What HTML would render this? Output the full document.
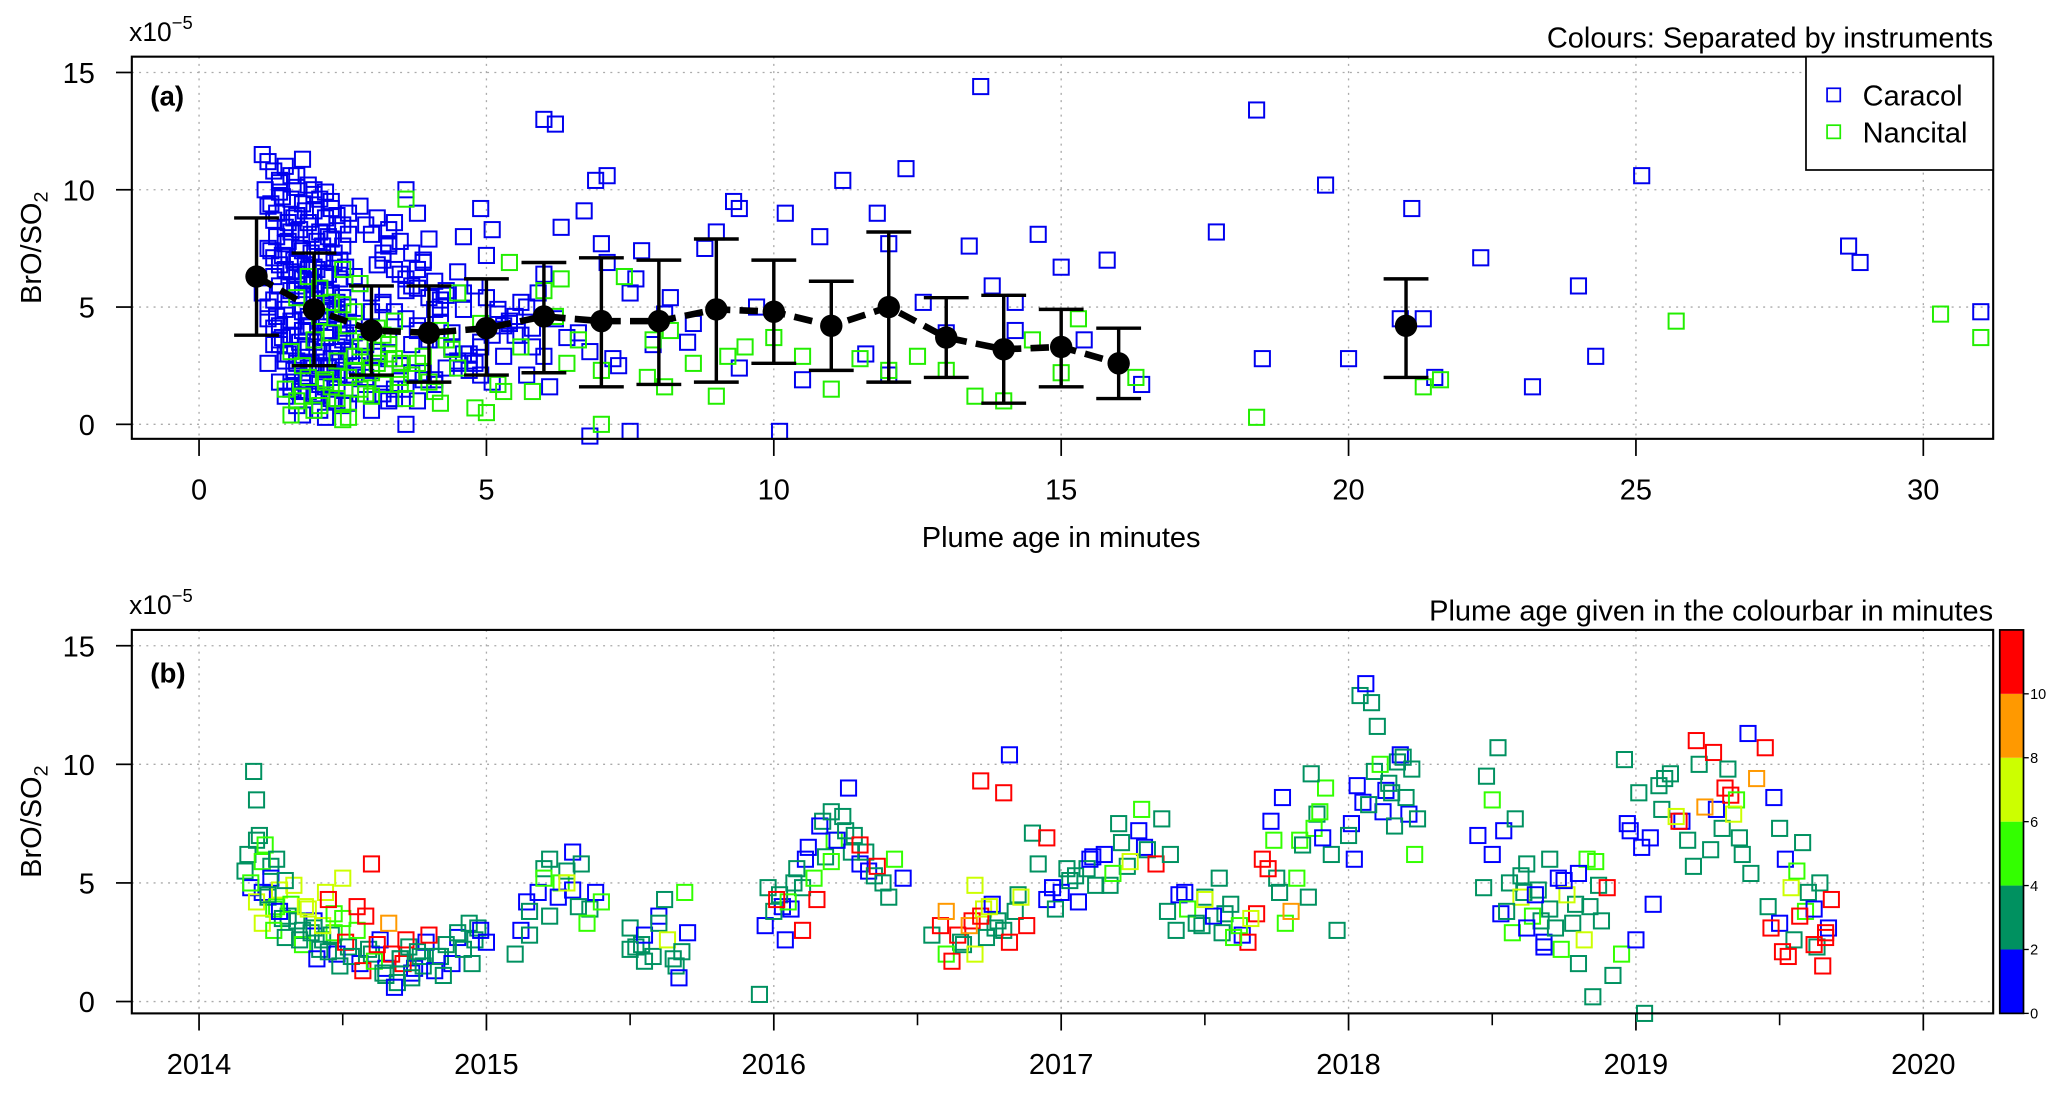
<!DOCTYPE html>
<html><head><meta charset="utf-8">
<style>
html,body{margin:0;padding:0;background:#fff;}
svg{display:block;font-family:"Liberation Sans",Arial,sans-serif;}
</style></head>
<body>
<svg id="fig" width="2067" height="1103" viewBox="0 0 1568 837" preserveAspectRatio="none" xmlns="http://www.w3.org/2000/svg">
<g id="pa"></g>
<g id="pb"></g>
</svg>
<script>
// ---------- Panel (a) data ----------
const ageTicksA = [0,5,10,15,20,25,30];
const ratioTicks = [0,5,10,15];
const caracolAge = [1.1,1.2,1.3,1.4,1.5,1.6,1.7,1.8,1.9,2.0,2.1,2.2,2.3,2.4,2.5,1.15,1.25,1.35,1.45,1.55,1.65,1.75,1.85,1.95,2.05,2.15,2.25,2.35,2.45,1.2,1.3,1.4,1.5,1.6,1.7,1.8,1.9,2.0,2.1,2.2,2.3,2.4,2.6,1.1,1.3,1.5,1.7,1.9,2.1,2.3,2.5,2.7,1.2,1.4,1.6,1.8,2.0,2.2,2.4,2.6,2.8,1.3,1.5,1.7,1.9,2.1,2.3,2.5,2.7,2.9,1.2,1.4,1.6,1.8,2.0,2.2,2.4,1.5,1.7,1.9,2.1,2.3,1.6,1.8,2.0,2.2,1.4,1.9,2.4,2.8,3.0,3.2,3.4,3.6,3.8,4.0,3.1,3.3,3.5,3.7,3.9,4.1,4.3,3.0,3.2,3.4,3.6,3.8,4.0,4.2,4.4,3.1,3.3,3.5,3.7,3.9,4.1,4.5,2.9,3.2,3.5,3.8,4.1,4.4,4.7,3.0,3.4,3.8,4.2,4.6,5.0,2.7,3.3,3.9,4.5,5.1,4.3,4.6,4.9,5.2,5.5,5.8,4.4,4.8,5.3,5.7,6.1,4.7,5.1,5.6,6.0,6.4,5.4,5.9,6.3,6.7,7.0,6.2,6.6,7.1,7.5,7.9,6.8,7.3,7.7,8.1,8.5,7.2,7.6,8.2,8.6,9.0,9.4,8.8,9.3,9.7,10.2,10.8,11.2,11.6,12.0,12.3,12.6,13.0,13.4,13.8,14.2,14.6,15.0,15.4,15.8,16.4,4.6,4.9,6.0,6.2,6.9,7.1,9.4,11.8,13.6,17.7,18.4,18.5,19.6,20.0,20.9,21.1,21.3,21.5,22.3,23.2,24.0,24.3,25.1,28.7,28.9,30.4,31.0,14.2,12.0,4.9,6.8,7.5,10.1,10.5,3.3,3.6,2.5,1.8];
const caracolRatio = [11.5,11.2,10.8,10.4,11.0,10.6,10.1,11.3,10.2,9.8,9.6,9.9,9.2,8.9,8.5,10.0,9.4,9.0,9.7,8.6,8.8,8.3,9.1,8.1,7.8,7.6,8.0,7.3,7.0,7.5,7.1,6.8,7.7,6.5,6.9,6.2,6.6,6.0,5.8,6.3,5.5,5.2,5.0,5.6,5.3,4.9,5.9,4.6,4.4,4.8,4.1,3.9,4.5,4.2,3.8,4.0,3.5,3.7,3.3,3.1,2.9,3.4,3.0,2.7,3.2,2.5,2.8,2.3,2.1,2.0,2.6,1.8,1.5,2.2,1.3,1.6,1.0,1.2,0.8,1.4,0.6,1.1,8.2,7.4,6.7,5.7,3.6,2.4,4.7,9.3,8.1,7.3,8.6,10.0,9.0,7.9,6.8,7.6,6.4,5.9,7.0,6.1,5.5,4.8,5.1,4.4,5.7,4.0,3.6,4.3,3.2,2.9,3.7,2.5,3.4,2.2,1.9,2.6,1.7,1.3,2.0,1.0,4.9,3.9,2.7,2.3,1.5,6.6,5.3,8.0,7.2,6.3,7.7,7.0,6.5,8.3,5.7,4.9,9.2,4.7,3.8,4.1,3.3,2.6,2.9,2.1,1.6,2.3,1.8,5.2,6.4,3.7,4.4,5.6,8.4,9.1,7.7,4.5,3.9,6.9,5.6,3.4,3.1,2.5,7.4,4.7,3.5,2.8,6.2,5.4,4.3,8.2,2.4,7.5,9.5,5.0,9.0,8.0,10.4,3.0,7.7,10.9,5.2,3.9,7.6,5.9,4.0,8.1,6.7,3.6,7.0,1.7,5.6,2.1,13.0,12.8,10.4,10.6,9.2,9.0,14.4,8.2,13.4,2.8,10.2,2.8,4.5,9.2,4.5,2.0,7.1,1.6,5.9,2.9,10.6,7.6,6.9,14.9,4.8,5.2,2.1,3.3,-0.5,-0.3,-0.3,1.9,1.0,0.0,0.8,4.8,3.0,2.7,1.9];
const caracolDenseAge = [1.2,1.3,1.4,1.5,1.6,1.7,1.8,1.9,2.0,2.1,2.2,2.3,2.4,2.5,2.6,1.25,1.35,1.45,1.55,1.65,1.75,1.85,1.95,2.05,2.15,2.25,2.35,2.45,2.55,1.3,1.4,1.5,1.6,1.7,1.8,1.9,2.0,2.1,2.2,2.3,2.4,2.5,1.2,1.35,1.5,1.65,1.8,1.95,2.1,2.25,2.4,2.55,2.7,1.3,1.45,1.6,1.75,1.9,2.05,2.2,2.35,2.5,2.65,1.4,1.55,1.7,1.85,2.0,2.15,2.3,2.45,2.6,2.75,1.5,1.65,1.8,1.95,2.1,2.25,2.4,2.55,1.6,1.75,1.9,2.05,2.2,2.35,1.4,1.7,2.0,2.3,2.6,2.9,3.1,3.3,3.5,3.7,3.9,3.2,3.4,3.6,3.8,4.0,4.2,2.8,3.0,3.2,3.4,3.6,3.8,4.0,4.2,4.4,4.6,2.9,3.1,3.3,3.5,3.7,3.9,4.1,4.3,4.5,4.7,4.9,5.1,5.3,5.5,5.7,4.8,5.0,5.2,5.4,5.6,5.8,6.0,1.8,2.2,2.6,3.0,3.4,1.6,2.4,2.8,3.2,3.6];
const caracolDenseRatio = [9.3,8.7,9.9,8.4,9.6,8.9,9.4,8.6,9.1,8.2,8.8,7.9,8.5,7.6,8.1,7.4,8.0,7.2,7.8,7.0,7.5,6.8,7.3,6.6,7.1,6.4,6.9,6.2,6.7,6.3,5.9,6.6,5.7,6.4,5.5,6.1,5.3,5.8,5.1,5.6,4.9,5.4,5.0,4.6,5.3,4.4,5.1,4.2,4.8,4.0,4.5,3.8,4.3,4.1,3.7,4.4,3.5,4.2,3.3,3.9,3.1,3.6,2.9,3.4,3.0,2.6,3.3,2.4,3.1,2.2,2.8,2.0,2.5,2.7,2.3,1.9,2.6,1.7,2.4,1.5,2.1,1.8,1.4,2.0,1.2,1.7,1.0,10.3,10.6,10.0,9.5,9.0,8.5,8.8,8.3,7.8,7.3,6.9,7.0,6.6,6.2,5.8,5.4,5.0,6.0,5.6,5.2,4.8,4.5,4.2,3.9,3.6,3.3,3.0,3.4,3.1,2.8,2.5,2.2,1.9,1.7,2.4,2.7,3.0,3.5,3.8,4.2,4.6,5.0,5.9,5.4,4.9,4.3,3.8,3.3,2.9,0.4,0.3,0.9,0.6,1.1,1.6,2.0,1.3,1.8,1.5];
const nancitalAge = [1.5,1.7,1.9,2.1,2.3,2.5,2.7,2.9,1.6,1.8,2.0,2.2,2.4,2.6,2.8,3.0,1.7,1.9,2.1,2.3,2.5,2.7,3.1,3.3,3.5,3.7,3.9,4.1,4.3,4.5,3.2,3.4,3.6,3.8,4.0,4.2,4.4,2.6,2.8,3.0,3.6,4.2,4.8,5.2,5.6,6.0,6.4,5.0,5.4,5.8,6.2,6.6,7.0,7.4,7.8,8.2,8.6,9.0,9.5,10.0,10.5,11.0,11.5,12.0,12.5,13.0,13.5,14.0,14.5,15.0,15.3,16.3,3.5,2.5,6.3,7.0,18.4,21.3,21.6,25.7,30.3,31.0,9.2,5.3,8.1,7.9,4.9,4.5,1.6,1.8,2.0,2.2,2.4,2.6,2.8,3.0,3.2,3.4,2.1,2.3,2.5,2.7,2.9,3.1,3.3,3.5];
const nancitalRatio = [1.5,1.0,2.0,0.8,1.6,0.9,2.3,1.3,3.1,2.5,3.6,1.9,2.7,4.2,3.3,2.2,5.4,6.3,4.6,3.9,5.1,2.9,2.6,3.4,1.7,2.1,2.9,1.4,3.6,2.4,3.8,4.4,1.1,2.6,1.8,0.9,3.2,0.3,6.0,1.2,9.6,4.0,0.7,1.7,3.3,5.7,2.6,0.5,6.9,1.4,4.6,3.6,2.3,6.3,2.0,4.0,2.6,1.2,3.3,3.7,2.9,1.5,2.8,2.3,2.9,2.3,1.2,1.0,3.6,2.2,4.5,2.0,2.0,0.2,6.2,0.0,0.3,1.6,1.9,4.4,4.7,3.7,2.9,1.4,1.6,3.6,4.3,5.6,0.4,1.2,0.6,1.8,1.1,2.0,1.5,2.4,1.7,2.8,5.8,5.2,6.6,4.8,3.5,4.1,3.0,2.6];
const meanAge = [1,2,3,4,5,6,7,8,9,10,11,12,13,14,15,16,21];
const meanRatio = [6.3,4.9,4.0,3.9,4.1,4.6,4.4,4.4,4.9,4.8,4.2,5.0,3.7,3.2,3.3,2.6,4.2];
const errLow = [3.8,2.5,2.1,1.8,2.1,2.2,1.6,1.7,1.8,2.6,2.3,1.8,2.0,0.9,1.6,1.1,2.0];
const errHigh = [8.8,7.3,5.9,5.9,6.2,6.9,7.1,7.0,7.9,7.0,6.1,8.2,5.4,5.5,4.9,4.1,6.2];

// ---------- Panel (b) data ----------
const yearTicks = [2014,2015,2016,2017,2018,2019,2020];
const cbarTicks = [0,2,4,6,8,10];
const obsDate = [2014.16,2014.17,2014.18,2014.19,2014.2,2014.21,2014.22,2014.23,2014.24,2014.25,2014.26,2014.27,2014.28,2014.29,2014.3,2014.18,2014.2,2014.22,2014.24,2014.26,2014.28,2014.3,2014.32,2014.34,2014.36,2014.38,2014.4,2014.42,2014.44,2014.46,2014.48,2014.5,2014.35,2014.37,2014.39,2014.41,2014.43,2014.45,2014.47,2014.49,2014.51,2014.53,2014.55,2014.57,2014.59,2014.61,2014.63,2014.65,2014.67,2014.69,2014.71,2014.73,2014.75,2014.77,2014.62,2014.64,2014.66,2014.68,2014.7,2014.72,2014.74,2014.76,2014.78,2014.8,2014.82,2014.84,2014.86,2014.88,2014.9,2014.92,2014.94,2014.96,2014.98,2015.0,2014.85,2014.95,2014.45,2014.5,2014.55,2014.58,2014.6,2015.1,2015.12,2015.15,2015.18,2015.2,2015.22,2015.25,2015.28,2015.3,2015.32,2015.35,2015.38,2015.15,2015.22,2015.28,2015.33,2015.4,2015.5,2015.52,2015.55,2015.58,2015.6,2015.63,2015.66,2015.68,2015.7,2015.55,2015.62,2015.67,2015.5,2015.69,2015.95,2015.97,2016.0,2016.02,2016.04,2016.06,2016.08,2016.1,2016.12,2016.14,2016.16,2016.18,2016.2,2016.22,2016.24,2016.26,2016.28,2016.3,2016.32,2016.35,2016.05,2016.1,2016.15,2016.2,2016.25,2016.3,2016.36,2016.38,2016.4,2016.42,2016.45,2015.98,2016.01,2016.55,2016.58,2016.6,2016.62,2016.64,2016.66,2016.68,2016.7,2016.72,2016.74,2016.76,2016.78,2016.8,2016.82,2016.84,2016.86,2016.88,2016.6,2016.7,2016.75,2016.8,2016.72,2016.82,2016.9,2016.92,2016.95,2016.98,2017.0,2017.03,2017.06,2017.09,2017.12,2017.15,2017.18,2017.21,2017.24,2017.27,2017.3,2017.33,2016.95,2017.02,2017.1,2017.2,2017.28,2017.35,2017.38,2017.41,2017.44,2017.47,2017.5,2017.53,2017.56,2017.59,2017.62,2017.65,2017.68,2017.4,2017.5,2017.6,2017.66,2017.55,2017.7,2017.72,2017.74,2017.76,2017.78,2017.8,2017.82,2017.84,2017.86,2017.88,2017.9,2017.92,2017.94,2017.73,2017.77,2017.87,2017.91,2017.96,2018.0,2018.02,2018.04,2018.06,2018.08,2018.1,2018.12,2018.14,2018.16,2018.18,2018.2,2018.22,2018.24,2018.03,2018.07,2018.11,2018.15,2018.19,2018.23,2018.45,2018.48,2018.5,2018.52,2018.54,2018.56,2018.58,2018.6,2018.62,2018.64,2018.66,2018.68,2018.7,2018.72,2018.74,2018.76,2018.78,2018.8,2018.82,2018.84,2018.86,2018.88,2018.9,2018.5,2018.55,2018.6,2018.65,2018.7,2018.75,2018.8,2018.85,2018.68,2018.62,2018.92,2018.95,2018.98,2019.0,2019.03,2019.06,2019.09,2019.12,2019.15,2019.18,2019.21,2019.24,2019.27,2019.3,2019.33,2018.96,2019.02,2019.08,2019.14,2019.2,2019.26,2019.32,2019.35,2019.37,2019.39,2019.34,2019.4,2019.42,2019.45,2019.48,2019.5,2019.52,2019.54,2019.56,2019.58,2019.6,2019.62,2019.64,2019.66,2019.68,2019.47,2019.53,2019.57,2019.62,2019.65,2019.66,2019.51];
const obsRatio = [5.5,6.2,4.8,9.7,8.5,7.0,5.9,6.6,4.4,5.2,3.9,6.0,4.7,3.5,5.1,5.0,4.2,3.3,4.5,3.0,3.8,2.7,4.1,3.4,2.4,3.9,3.1,2.2,4.6,2.8,2.0,3.5,2.6,4.0,2.9,1.8,3.2,2.1,3.7,1.5,2.5,1.9,3.0,1.3,2.2,1.7,2.6,1.1,2.0,0.8,1.6,2.3,1.4,1.9,2.4,1.2,3.3,0.6,1.8,2.6,1.0,2.1,1.5,2.8,1.3,1.9,2.4,1.6,2.9,2.2,3.3,2.6,3.0,2.5,1.1,1.6,4.3,5.2,4.0,3.6,5.8,2.0,3.0,3.8,4.6,5.2,6.0,4.4,5.5,6.3,4.0,3.3,4.6,2.8,3.6,5.0,5.8,4.2,3.1,2.3,2.8,1.9,3.3,2.6,1.5,2.1,2.9,1.7,4.3,1.0,2.2,4.6,0.3,3.2,3.8,4.5,2.6,3.9,5.6,4.8,6.5,5.2,7.4,6.1,8.0,6.8,7.8,9.0,7.0,5.8,6.3,5.3,4.2,3.0,4.3,5.9,7.2,6.6,5.7,5.0,4.4,6.0,5.2,4.8,4.3,2.8,3.2,2.0,1.7,2.8,2.4,3.2,2.0,3.6,2.7,4.1,3.4,3.0,2.5,3.8,4.4,3.2,3.8,4.9,4.0,8.8,9.3,10.4,7.1,5.8,4.3,3.9,4.6,5.1,4.2,5.6,4.9,6.2,5.4,6.7,5.9,7.2,6.4,5.8,6.9,5.6,6.0,7.5,8.1,7.7,6.2,4.5,3.9,3.3,4.4,3.6,2.9,4.1,3.2,2.5,3.7,3.0,4.3,2.7,3.5,5.2,6.0,5.6,6.8,4.6,3.3,3.8,5.2,6.6,4.4,7.3,8.0,9.0,6.2,7.6,8.6,9.6,6.9,3.0,7.0,6.0,12.9,13.4,12.6,11.6,8.0,9.2,7.4,10.4,8.6,9.8,7.7,9.1,8.3,10.0,8.8,10.3,6.2,7.0,9.5,8.5,10.7,7.2,5.0,7.7,4.4,5.8,3.6,4.7,2.5,3.9,3.1,2.2,4.5,3.3,5.4,2.6,4.0,5.9,3.4,4.8,6.2,3.8,5.3,4.5,6.0,5.1,1.6,0.2,2.3,3.1,1.1,2.0,7.2,2.6,-0.5,4.1,8.1,9.6,7.6,6.8,11.0,8.2,10.5,7.3,8.7,10.2,6.5,9.1,7.8,5.7,6.4,9.8,8.5,6.2,11.3,7.9,5.4,9.4,10.7,8.6,7.3,6.0,4.8,5.5,6.7,4.6,3.9,5.0,2.7,4.3,3.1,1.9,3.6,2.4,1.5,2.9,2.1,1.2,0.6,3.4,4.2,3.0,7.9,2.2,0.1,4.5];
const obsPlumeAge = [3,3,1,3,3,3,4,5,3,1,4,3,6,3,2,5,6,6,3,4,1,3,5,2,4,6,3,2,7,3,1,5,3,6,2,1,7,3,5,3,10,2,4,11,3,5,1,3,10,2,11,3,1,2,11,3,9,1,3,11,3,2,3,11,1,3,2,1,3,2,3,3,1,1,3,2,11,7,10,11,11,3,1,2,1,4,3,1,2,1,3,5,1,3,2,6,3,4,3,3,1,2,3,7,3,2,1,3,3,1,3,4,3,1,2,3,1,1,3,2,1,5,1,3,2,1,2,1,3,1,3,3,4,11,11,4,3,10,11,3,3,5,1,3,11,3,11,5,10,11,3,9,7,11,3,1,2,3,10,3,7,11,9,7,7,10,11,1,3,2,1,3,1,3,1,3,2,1,5,3,6,1,3,11,10,3,1,3,5,3,2,1,5,3,2,1,3,3,5,11,10,3,7,5,6,3,11,10,5,3,5,9,5,3,3,5,5,5,3,1,1,3,1,3,2,1,3,1,3,3,1,3,2,1,3,3,3,1,3,5,3,3,5,1,3,5,3,1,3,2,7,3,5,3,1,3,3,5,7,3,1,7,3,5,3,11,1,3,2,1,3,1,3,3,1,1,3,5,1,1,3,1,2,3,11,3,11,9,11,3,11,3,1,3,6,3,2,3,5,3,1,7,3,9,11,1,3,1,7,5,3,3,1,3];
const extraDate = [2014.2,2014.22,2014.25,2014.27,2014.31,2014.33,2014.36,2014.4,2014.43,2014.47,2014.52,2014.56,2014.6,2014.65,2014.7,2014.74,2014.79,2014.83,2014.9,2014.97,2015.14,2015.2,2015.26,2015.3,2015.36,2015.54,2015.6,2015.65,2016.03,2016.07,2016.11,2016.17,2016.21,2016.27,2016.33,2016.65,2016.69,2016.73,2016.77,2016.85,2016.97,2017.05,2017.11,2017.17,2017.23,2017.29,2017.37,2017.43,2017.49,2017.57,2017.63,2017.75,2017.83,2017.89,2018.01,2018.05,2018.09,2018.13,2018.17,2018.21,2018.47,2018.53,2018.57,2018.61,2018.67,2018.73,2018.79,2018.83,2018.87,2018.97,2019.01,2019.05,2019.1,2019.16,2019.22,2019.28,2019.31,2019.36,2019.46,2019.5,2019.55,2019.59,2019.63,2019.67];
const extraRatio = [6.8,4.6,5.7,4.0,3.6,4.9,3.0,3.4,2.6,2.9,2.3,1.6,2.0,1.4,1.8,1.2,2.5,1.9,2.7,3.1,4.2,5.6,5.0,4.7,3.9,2.4,3.6,1.8,4.0,5.0,6.0,7.6,6.8,6.3,5.5,2.5,3.4,3.9,3.1,4.5,4.8,5.3,6.1,4.9,5.7,6.5,3.8,4.6,3.2,3.7,2.8,5.2,6.8,7.9,7.5,8.4,9.7,8.9,10.1,7.9,4.8,3.7,2.9,4.6,3.4,5.2,4.1,6.0,4.9,7.5,8.8,6.9,9.4,7.6,10.0,8.1,9.0,6.9,4.0,3.3,2.6,3.8,2.3,3.1];
const extraAge = [3,1,3,4,3,6,3,1,3,4,3,1,3,1,3,1,1,3,1,3,1,3,4,1,3,3,1,3,1,3,1,3,4,3,1,3,10,7,3,3,1,3,1,3,3,1,3,1,3,3,1,3,4,3,1,1,3,1,3,1,3,1,4,3,3,1,3,5,3,1,3,1,3,1,3,1,11,3,3,1,3,4,3,1];

// ---------- helpers ----------
const NS = "http://www.w3.org/2000/svg";
function mk(tag, attrs, parent){
  const e = document.createElementNS(NS, tag);
  for (const k in attrs) e.setAttribute(k, attrs[k]);
  parent.appendChild(e);
  return e;
}
const L = 100, R = 1512;
const A = {top:43, bot:333, y0:322, yPer:17.8};
const B = {top:478, bot:769, y0:760, yPer:18};
const xMin = m => 151 + m*43.6;
const yA = v => A.y0 - v*A.yPer;
const xYear = t => 151 + (t-2014)*218;
const yB = v => B.y0 - v*B.yPer;
function ageColor(a){
  if (a < 2) return "#0000ff";
  if (a < 4) return "#009160";
  if (a < 6) return "#33ff00";
  if (a < 8) return "#ccff00";
  if (a < 10) return "#ff9900";
  return "#ff0000";
}

function drawFrame(g, P, yfn, xfn, xticks, xlabels, title, minor){
  for (const v of ratioTicks){
    const gl = mk("line",{x1:L,x2:R,y1:yfn(v),y2:yfn(v),stroke:"#aaa","stroke-width":1,"stroke-dasharray":"1.5 4"},g);
    
    
    const t = mk("line",{x1:L-12,x2:L,y1:yfn(v),y2:yfn(v),stroke:"#000","stroke-width":1.3},g);
    
    
    const lb = mk("text",{x:L-28,y:yfn(v)+8,"text-anchor":"end","font-size":22},g);
    
    
    lb.textContent = v;
  }
  xticks.forEach((v,i)=>{
    const gl = mk("line",{x1:xfn(v),x2:xfn(v),y1:P.top,y2:P.bot,stroke:"#aaa","stroke-width":1,"stroke-dasharray":"1.5 4"},g);
    
    
    const t = mk("line",{x1:xfn(v),x2:xfn(v),y1:P.bot,y2:P.bot+13,stroke:"#000","stroke-width":1.3},g);
    
    
    const lb = mk("text",{x:xfn(v),y:P.bot+46,"text-anchor":"middle","font-size":22},g);
    
    
    lb.textContent = xlabels[i];
    if (minor && i < xticks.length-1){
      const mt = mk("line",{x1:xfn(v+0.5),x2:xfn(v+0.5),y1:P.bot,y2:P.bot+9,stroke:"#000","stroke-width":1.2},g);
      
      
    }
  });
  const ex = mk("text",{x:L-2,y:P.top-12,"font-size":20},g);
  
  
  ex.innerHTML = 'x10<tspan dy="-9" font-size="14">−5</tspan>';
  const tt = mk("text",{x:R,y:P.top-7,"text-anchor":"end","font-size":22},g);
  
  
  tt.textContent = title;
  const yl = mk("text",{transform:`translate(31,${(P.top+P.bot)/2}) rotate(-90)`,"text-anchor":"middle","font-size":22},g);
  
  
  yl.innerHTML = 'BrO/SO<tspan dy="5" font-size="15">2</tspan>';
}

const S = 11.5;
function sq(g,x,y,col,name){
  const r = mk("rect",{x:x-S/2,y:y-S/2,width:S,height:S,fill:"none",stroke:col,"stroke-width":1.5},g);
  
  
}

// ---------- Panel a ----------
const ga = document.getElementById('pa');
drawFrame(ga, A, yA, xMin, ageTicksA, ageTicksA, "Colours: Separated by instruments", false);
const clipA = mk("g",{},ga);
caracolAge.forEach((m,i)=>{ if (xMin(m) < R-3) sq(clipA, xMin(m), yA(caracolRatio[i]), "#0000ee", "caracol-point"); });
caracolDenseAge.forEach((m,i)=>{ sq(clipA, xMin(m), yA(caracolDenseRatio[i]), "#0000ee", "caracol-point"); });
nancitalAge.forEach((m,i)=>{ if (xMin(m) < R-3) sq(clipA, xMin(m), yA(nancitalRatio[i]), "#22ee00", "nancital-point"); });
let d = "";
meanAge.forEach((m,i)=>{ if (m<=16) d += (i? "L":"M") + xMin(m) + " " + yA(meanRatio[i]) + " "; });
const ml = mk("path",{d:d,fill:"none",stroke:"#000","stroke-width":5,"stroke-dasharray":"14 7"},ga);


meanAge.forEach((m,i)=>{
  const x = xMin(m);
  const eb = mk("path",{d:`M${x} ${yA(errLow[i])}V${yA(errHigh[i])}M${x-17} ${yA(errLow[i])}H${x+17}M${x-17} ${yA(errHigh[i])}H${x+17}`,stroke:"#000","stroke-width":2.6,fill:"none"},ga);
  
  
  const c = mk("circle",{cx:x,cy:yA(meanRatio[i]),r:8.5,fill:"#000"},ga);
  
  
});
const fa = mk("rect",{x:L,y:A.top,width:R-L,height:A.bot-A.top,fill:"none",stroke:"#000","stroke-width":1.6},ga);


const pla = mk("text",{x:L+14,y:A.top+37,"font-size":21,"font-weight":"bold"},ga);


pla.textContent = "(a)";
const xta = mk("text",{x:805,y:415,"text-anchor":"middle","font-size":22},ga);


xta.textContent = "Plume age in minutes";
const lg = mk("g",{},ga);


mk("rect",{x:1370,y:43,width:142,height:86,fill:"#fff",stroke:"#000","stroke-width":1.3},lg);
const leg = [["Caracol","#0000ee",72],["Nancital","#22ee00",100]];
leg.forEach(e=>{
  const le = mk("g",{},lg);
  
  
  mk("rect",{x:1386,y:e[2]-5,width:10,height:10,fill:"none",stroke:e[1],"stroke-width":1.3},le);
  const t = mk("text",{x:1413,y:e[2]+8,"font-size":22},le);
  t.textContent = e[0];
});

// ---------- Panel b ----------
const gb = document.getElementById('pb');
drawFrame(gb, B, yB, xYear, yearTicks, yearTicks, "Plume age given in the colourbar in minutes", true);
extraDate.forEach((t,i)=>{ sq(gb, xYear(t), yB(extraRatio[i]), ageColor(extraAge[i]), "observation-point"); });
obsDate.forEach((t,i)=>{ sq(gb, xYear(t), yB(obsRatio[i]), ageColor(obsPlumeAge[i]), "observation-point"); });
const fb = mk("rect",{x:L,y:B.top,width:R-L,height:B.bot-B.top,fill:"none",stroke:"#000","stroke-width":1.6},gb);


const plb = mk("text",{x:L+14,y:B.top+40,"font-size":21,"font-weight":"bold"},gb);


plb.textContent = "(b)";
const cb = mk("g",{},gb);


const cTop = 478, cBot = 769, cMax = 12;
const cy = v => cBot - v/cMax*(cBot-cTop);
[0,2,4,6,8,10].forEach(v=>{
  const r = mk("rect",{x:1517,y:cy(v+2),width:18,height:cy(v)-cy(v+2),fill:ageColor(v+0.5)},cb);
  
  
});
mk("rect",{x:1517,y:cTop,width:18,height:cBot-cTop,fill:"none",stroke:"#000","stroke-width":1.3},cb);
cbarTicks.forEach(v=>{
  mk("line",{x1:1535,x2:1539,y1:cy(v),y2:cy(v),stroke:"#000","stroke-width":1},cb);
  const t = mk("text",{x:1540,y:cy(v)+4,"font-size":11},cb);
  
  
  t.textContent = v;
});
</script>
</body></html>
